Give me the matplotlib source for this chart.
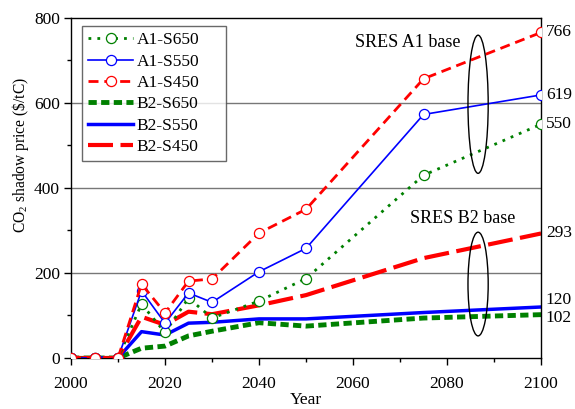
import matplotlib
matplotlib.use("Agg")
import numpy as np
from matplotlib import pyplot as plt
from matplotlib.patches import Ellipse
from matplotlib.ticker import MultipleLocator

plt.rcParams['font.family'] = ['Liberation Serif', 'DejaVu Serif']
plt.rcParams['mathtext.fontset'] = 'custom'
plt.rcParams['mathtext.rm'] = 'Liberation Serif'

# data
years = [2000, 2005, 2010, 2015, 2020, 2025, 2030, 2040, 2050, 2075, 2100]
a1_s650 = [0, 0, 0, 127, 60, 141, 94, 134, 187, 430, 550]
a1_s550 = [0, 0, 0, 158, 82, 153, 131, 203, 258, 573, 619]
a1_s450 = [0, 0, 0, 174, 106, 181, 186, 294, 350, 657, 766]
b2_s650 = [0, 0, 0, 23, 28, 52, 63, 83, 75, 94, 102]
b2_s550 = [0, 0, 0, 62, 54, 82, 84, 92, 92, 107, 120]
b2_s450 = [0, 0, 0, 97, 78, 109, 103, 124, 148, 235, 293]
end_labels = [766, 619, 550, 293, 120, 102]
end_label_y = [766, 619, 550, 293, 137, 93]

green = '#008000'
blue = '#0000ff'
red = '#ff0000'
fs = 12.5

fig = plt.figure(figsize=(5.75, 4.09), dpi=100)
ax = fig.add_axes([0.1235, 0.1247, 0.8175, 0.8313])

for y in [200, 400, 600]:
    ax.axhline(y, color='#777777', linewidth=1, zorder=0)

mk = dict(marker='o', markersize=7.3, markerfacecolor='white', markeredgewidth=0.9)

ax.plot(years, b2_s650, color=green, linewidth=3.5, dashes=(1.7, 0.9), label='B2-S650', zorder=2)
ax.plot(years, b2_s550, color=blue, linewidth=2.5, label='B2-S550', zorder=2)
ax.plot(years, b2_s450, color=red, linewidth=3, dashes=(6, 1.8), label='B2-S450', zorder=2)

ax.plot(years, a1_s650, color=green, linewidth=2, dashes=(1, 2.2),
        markeredgecolor=green, label='A1-S650', zorder=3, **mk)
ax.plot(years, a1_s550, color=blue, linewidth=1.2,
        markeredgecolor=blue, label='A1-S550', zorder=3, **mk)
ax.plot(years, a1_s450, color=red, linewidth=2, dashes=(3.6, 2.1),
        markeredgecolor=red, label='A1-S450', zorder=3, **mk)

handles, labels = ax.get_legend_handles_labels()
order = [3, 4, 5, 0, 1, 2]
leg = ax.legend([handles[i] for i in order], [labels[i] for i in order],
                loc='upper left', bbox_to_anchor=(0.0234, 0.576, 0.306, 0.4),
                mode='expand', fontsize=fs,
                handlelength=2.6, frameon=True, fancybox=False, edgecolor='#444444',
                borderpad=0.35, labelspacing=0.3, handletextpad=0.2, borderaxespad=0)
leg.get_frame().set_linewidth(1)

ax.set_xlim(2000, 2100)
ax.set_ylim(0, 800)
ax.xaxis.set_major_locator(MultipleLocator(20))
ax.xaxis.set_minor_locator(MultipleLocator(10))
ax.yaxis.set_major_locator(MultipleLocator(200))
ax.yaxis.set_minor_locator(MultipleLocator(100))
ax.tick_params(which='major', direction='out', length=5, labelsize=fs, width=1)
ax.tick_params(which='minor', direction='out', length=3, width=1)
ax.tick_params(axis='x', pad=8)
ax.tick_params(axis='y', pad=3)
for s in ax.spines.values():
    s.set_linewidth(1)

ax.set_xlabel('Year', fontsize=fs, labelpad=0)
ax.set_ylabel(r'CO$_\mathrm{2}$ shadow price (\$/tC)', fontsize=11.2)
ax.yaxis.set_label_coords(-0.085, 0.597)

for v, yy in zip(end_labels, end_label_y):
    ax.text(2101, yy, str(v), fontsize=fs, va='center', ha='left', clip_on=False)

ax.text(2071.7, 743, 'SRES A1 base', fontsize=13, ha='center', va='center')
ax.text(2083.4, 329, 'SRES B2 base', fontsize=13, ha='center', va='center')
ax.add_patch(Ellipse((2086.6, 597), 4.3, 325, fill=False, edgecolor='black', linewidth=1, zorder=4))
ax.add_patch(Ellipse((2086.6, 174), 4.3, 244, fill=False, edgecolor='black', linewidth=1, zorder=4))

fig.savefig('out.png', dpi=100)
